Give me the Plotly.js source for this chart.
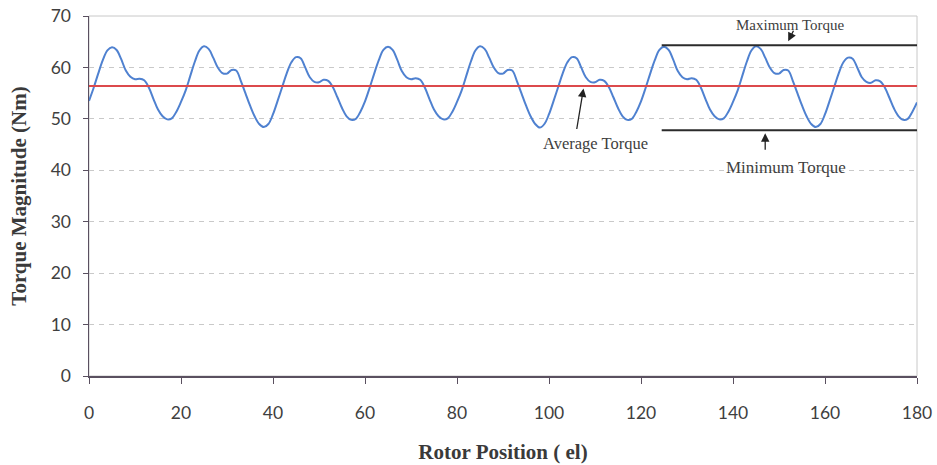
<!DOCTYPE html>
<html>
<head>
<meta charset="utf-8">
<script src="https://cdn.plot.ly/plotly-3.0.1.min.js"></script>
<style>
  html, body { margin: 0; padding: 0; background: #ffffff; }
  #chart { width: 937px; height: 465px; }
</style>
</head>
<body>
<div id="chart"></div>
<script>
// Rotor position in electrical degrees, one sample per degree
const rotorPosition = [
  0, 1, 2, 3, 4, 5, 6, 7, 8, 9, 10, 11, 12, 13, 14, 15, 16, 17, 18, 19,
  20, 21, 22, 23, 24, 25, 26, 27, 28, 29, 30, 31, 32, 33, 34, 35, 36, 37, 38, 39,
  40, 41, 42, 43, 44, 45, 46, 47, 48, 49, 50, 51, 52, 53, 54, 55, 56, 57, 58, 59,
  60, 61, 62, 63, 64, 65, 66, 67, 68, 69, 70, 71, 72, 73, 74, 75, 76, 77, 78, 79,
  80, 81, 82, 83, 84, 85, 86, 87, 88, 89, 90, 91, 92, 93, 94, 95, 96, 97, 98, 99,
  100, 101, 102, 103, 104, 105, 106, 107, 108, 109, 110, 111, 112, 113, 114, 115, 116, 117, 118, 119,
  120, 121, 122, 123, 124, 125, 126, 127, 128, 129, 130, 131, 132, 133, 134, 135, 136, 137, 138, 139,
  140, 141, 142, 143, 144, 145, 146, 147, 148, 149, 150, 151, 152, 153, 154, 155, 156, 157, 158, 159,
  160, 161, 162, 163, 164, 165, 166, 167, 168, 169, 170, 171, 172, 173, 174, 175, 176, 177, 178, 179,
  180
];

// Instantaneous torque (Nm)
const torque = [
  53.5, 56.0, 58.8, 61.4, 63.3, 63.9, 63.4, 61.6, 59.4, 58.2, 57.7, 57.8, 57.5, 56.1, 53.9, 51.8, 50.5, 49.9, 50.1, 51.4,
  53.3, 55.5, 58.3, 61.1, 63.3, 64.1, 63.6, 61.9, 60.0, 58.9, 58.8, 59.5, 59.4, 57.4, 55.0, 52.6, 50.5, 49.0, 48.4, 49.0,
  50.9, 53.5, 56.2, 58.9, 61.0, 62.0, 61.8, 60.0, 58.1, 57.2, 57.1, 57.6, 57.4, 56.2, 54.2, 52.1, 50.5, 49.8, 50.0, 51.4,
  53.4, 56.0, 58.8, 61.4, 63.4, 64.0, 63.4, 61.5, 59.3, 58.1, 57.7, 57.9, 57.6, 56.1, 53.9, 51.8, 50.5, 49.9, 50.1, 51.4,
  53.3, 55.5, 58.3, 61.1, 63.3, 64.1, 63.6, 61.9, 60.0, 58.9, 58.8, 59.5, 59.4, 57.4, 55.0, 52.6, 50.5, 49.0, 48.3, 49.0,
  50.9, 53.5, 56.2, 58.9, 61.0, 62.0, 61.8, 60.0, 58.1, 57.2, 57.1, 57.6, 57.4, 56.2, 54.2, 52.1, 50.5, 49.8, 50.0, 51.4,
  53.4, 56.0, 58.8, 61.4, 63.4, 64.0, 63.4, 61.5, 59.3, 58.1, 57.7, 57.9, 57.6, 56.1, 53.9, 51.8, 50.5, 49.9, 50.1, 51.4,
  53.3, 55.5, 58.3, 61.1, 63.3, 64.1, 63.6, 61.9, 60.0, 58.9, 58.8, 59.5, 59.4, 57.4, 55.0, 52.6, 50.5, 49.0, 48.4, 49.0,
  50.9, 53.5, 56.2, 58.9, 61.0, 61.9, 61.7, 60.0, 58.1, 57.2, 57.0, 57.5, 57.3, 56.1, 54.1, 52.0, 50.5, 49.8, 50.0, 51.4,
  53.2
];

// Reference levels (Nm)
const averageTorque = 56.4;
const maximumTorque = 64.3;
const minimumTorque = 47.8;

// Horizontal extents of the reference lines (el. degrees)
const averageSpan = [0, 180];
const extremeSpan = [124.5, 180];

// Axis ticks
const xTicks = [0, 20, 40, 60, 80, 100, 120, 140, 160, 180];
const yTicks = [0, 10, 20, 30, 40, 50, 60, 70];

const labelColor = '#3f3f3f';
const serif = 'Liberation Serif, Times New Roman, serif';
const titleFont = { family: serif, size: 21, color: '#3a3a3a', weight: 'bold' };

const traces = [
  {
    x: rotorPosition,
    y: torque,
    type: 'scatter',
    mode: 'lines',
    line: { color: '#4f81d0', width: 2, shape: 'spline', smoothing: 1 },
    hoverinfo: 'x+y',
    showlegend: false
  },
  {
    x: averageSpan,
    y: [averageTorque, averageTorque],
    type: 'scatter',
    mode: 'lines',
    line: { color: '#dc4a4c', width: 2 },
    showlegend: false
  },
  {
    x: extremeSpan,
    y: [maximumTorque, maximumTorque],
    type: 'scatter',
    mode: 'lines',
    line: { color: '#2b2b2b', width: 2 },
    cliponaxis: false,
    showlegend: false
  },
  {
    x: extremeSpan,
    y: [minimumTorque, minimumTorque],
    type: 'scatter',
    mode: 'lines',
    line: { color: '#2b2b2b', width: 2 },
    cliponaxis: false,
    showlegend: false
  }
];

const layout = {
  width: 937,
  height: 465,
  margin: { l: 89, r: 20, t: 16, b: 89 },
  paper_bgcolor: '#ffffff',
  plot_bgcolor: '#ffffff',
  showlegend: false,
  xaxis: {
    range: [0, 180],
    tickvals: xTicks,
    ticktext: xTicks.map(String),
    showgrid: false,
    zeroline: false,
    showline: true,
    linecolor: '#5a5060',
    linewidth: 1.5,
    ticks: 'outside',
    ticklen: 6,
    tickcolor: '#5a5060',
    ticklabelstandoff: 14,
    tickfont: { family: 'Lato, Carlito, sans-serif', size: 17.5, color: labelColor },
    title: { text: 'Rotor Position ( el)', font: titleFont, standoff: 23 }
  },
  yaxis: {
    range: [0, 70],
    tickvals: yTicks,
    ticktext: yTicks.map(String),
    showgrid: true,
    gridcolor: '#c9c9c9',
    griddash: '5px,5px',
    gridwidth: 1,
    zeroline: false,
    showline: true,
    linecolor: '#5a5060',
    linewidth: 1.5,
    ticks: 'outside',
    ticklen: 5,
    tickcolor: '#5a5060',
    ticklabelstandoff: 8,
    tickfont: { family: 'Lato, Carlito, sans-serif', size: 17.5, color: labelColor },
    title: { text: 'Torque Magnitude (Nm)', font: titleFont, standoff: 18 }
  },
  shapes: [
    // light frame around the plotting area
    {
      type: 'rect', xref: 'paper', yref: 'paper', x0: 0, x1: 1, y0: 0, y1: 1,
      line: { color: '#c8c8c8', width: 1 }, layer: 'below'
    }
  ],
  annotations: [
    { x: 152.6, y: 68.2, xref: 'x', yref: 'y', text: 'Maximum Torque', showarrow: false,
      font: { family: serif, size: 15, color: '#404040' } },
    { x: 152.0, y: 65.1, xref: 'x', yref: 'y', text: '', showarrow: true,
      ax: 6, ay: -12, arrowhead: 2, arrowsize: 1.3, arrowwidth: 1.3, arrowcolor: '#222222' },
    { x: 110.2, y: 45.3, xref: 'x', yref: 'y', text: 'Average Torque', showarrow: false,
      font: { family: serif, size: 16.5, color: '#404040' } },
    { x: 107.5, y: 55.9, xref: 'x', yref: 'y', text: '', showarrow: true,
      ax: -7, ay: 42, arrowhead: 2, arrowsize: 1.3, arrowwidth: 1.3, arrowcolor: '#222222' },
    { x: 151.5, y: 40.6, xref: 'x', yref: 'y', text: 'Minimum Torque', showarrow: false,
      font: { family: serif, size: 17, color: '#404040' } },
    { x: 147.0, y: 47.2, xref: 'x', yref: 'y', text: '', showarrow: true,
      ax: 0, ay: 18, arrowhead: 2, arrowsize: 1.3, arrowwidth: 1.3, arrowcolor: '#222222' }
  ]
};

Plotly.newPlot('chart', traces, layout, { displayModeBar: false, staticPlot: true });
</script>
</body>
</html>
